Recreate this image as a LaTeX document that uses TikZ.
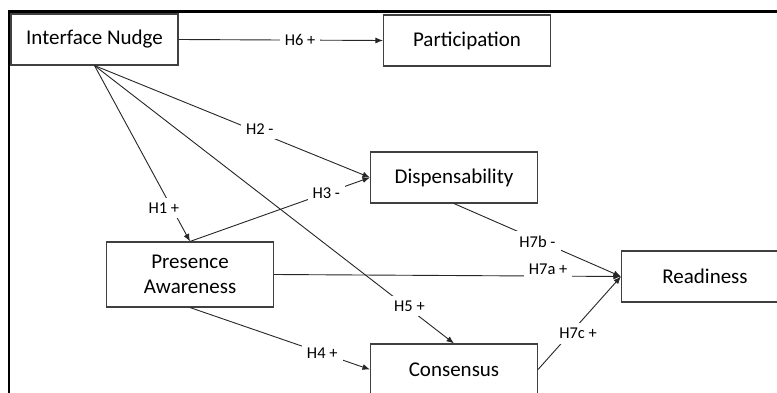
\documentclass[tikz,border=0pt]{standalone}
\usepackage{fontspec}
\setmainfont{Carlito}
\usetikzlibrary{arrows.meta}
\begin{document}
\begin{tikzpicture}[x=1pt,y=-1pt,
  box/.style={draw=black!75,line width=1.1pt,minimum width=167pt,minimum height=51pt,inner sep=0pt,align=center,font=\fontsize{21}{25}\selectfont},
  conn/.style={draw=black!85,line width=0.9pt,-{Latex[length=7.5pt,width=6pt]}},
  lab/.style={fill=white,inner sep=5pt,font=\fontsize{16.5}{18}\selectfont}]
\useasboundingbox (0,0) rectangle (777,393);
\clip (0,0) rectangle (777,393);
\fill[white] (0,0) rectangle (777,393);
% frame
\coordinate (ftl) at (9,11.5);
\coordinate (ftr) at (777,11.5);
\coordinate (fbl) at (9,393);
\draw[line width=2.2pt,black] (ftr) -- (ftl) -- (fbl);
% nodes
\node[box] (IN) at (94.5,39.5) {Interface Nudge};
\node[box] (PA) at (467,40.5) {Participation};
\node[box] (DI) at (454,177.5) {Dispensability};
\node[box,minimum height=65pt] (PR) at (190,274.5) {Presence\\Awareness};
\node[box] (CO) at (454,369.5) {Consensus};
\node[box] (RE) at (705,276.5) {Readiness};
% connectors
\draw[conn] (IN.east) -- node[lab,pos=0.595]{H6 +} (PA.west);
\draw[conn] (IN.south) -- node[lab,pos=0.6,yshift=4pt]{H2 -} (DI.west);
\draw[conn] (IN.south) -- node[lab,pos=0.81,xshift=-8pt]{H1 +} (PR.north);
\draw[conn] (IN.south) -- node[lab,pos=0.865,xshift=4pt]{H5 +} (CO.north);
\draw[conn] (PR.north) -- node[lab,pos=0.757]{H3 -} (DI.west);
\draw[conn] (PR.east) -- node[lab,pos=0.79,yshift=7pt]{H7a +} (RE.west);
\draw[conn] (DI.south) -- node[lab,pos=0.5,yshift=-2pt]{H7b -} (RE.west);
\draw[conn] (CO.east) -- node[lab,pos=0.387,xshift=8pt]{H7c +} (RE.west);
\draw[conn] (PR.south) -- node[lab,pos=0.735]{H4 +} (CO.west);
\end{tikzpicture}
\end{document}
